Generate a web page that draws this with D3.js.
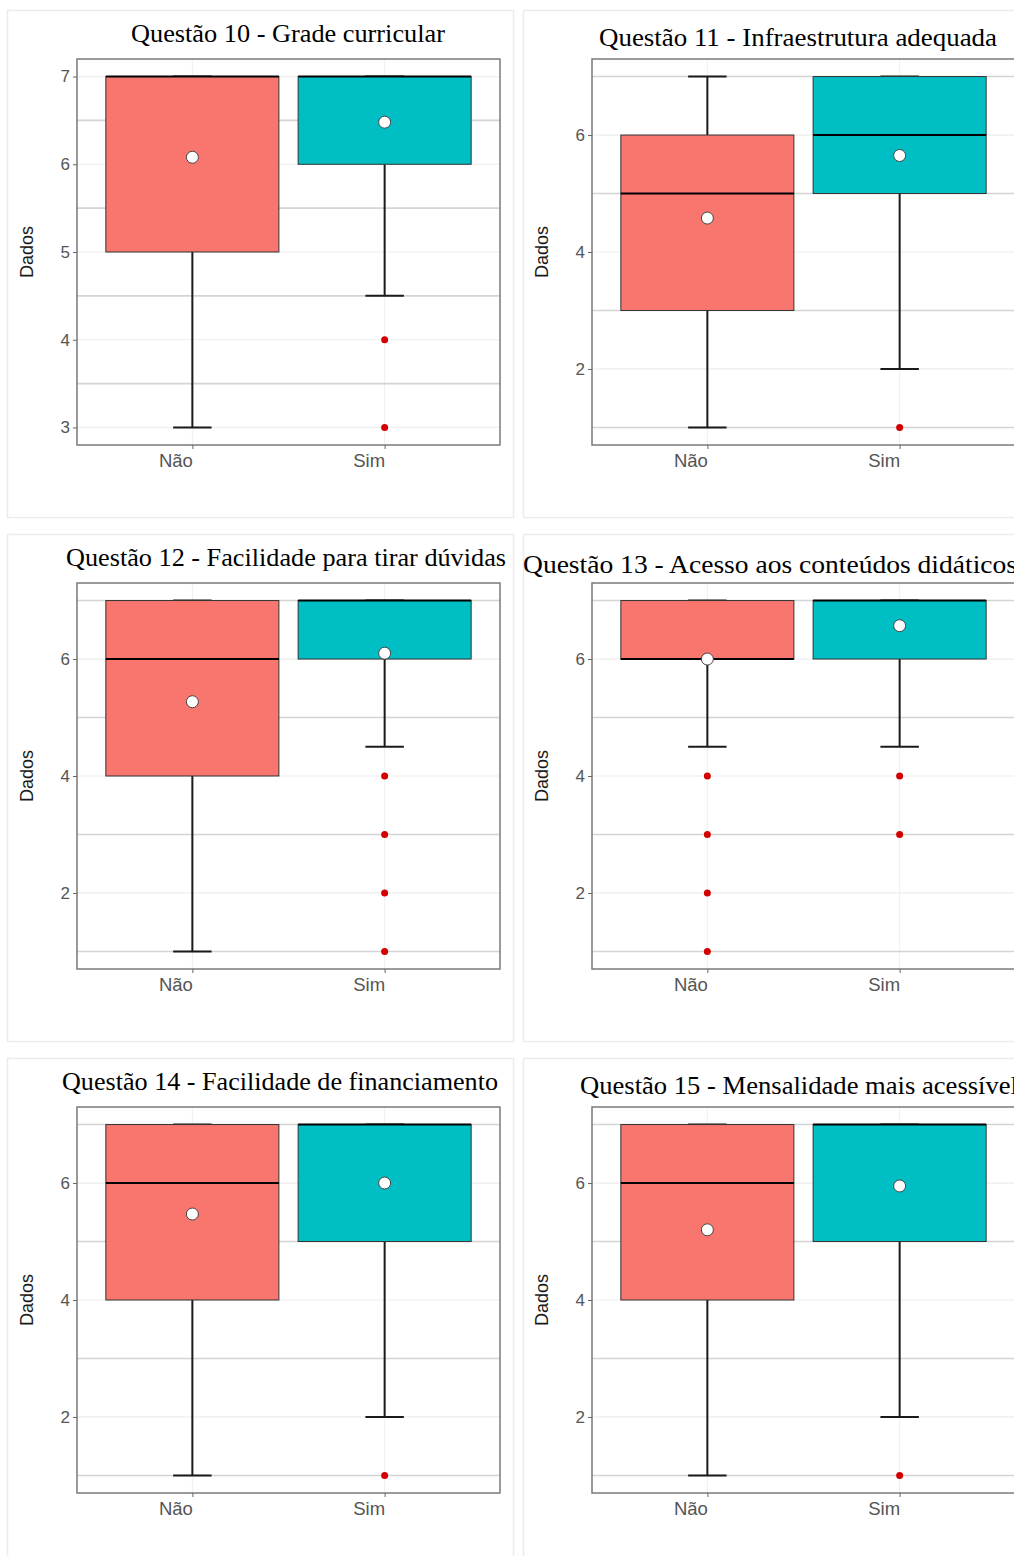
<!DOCTYPE html>
<html><head><meta charset="utf-8">
<script src="https://cdn.jsdelivr.net/npm/d3@7"></script>
<style>body{margin:0;background:#fff}svg{display:block}</style>
</head><body>
<svg id="chart" width="1014" height="1556"></svg>
<script>
// ---- data ----
const titles = [
  "Questão 10 - Grade curricular",
  "Questão 11 - Infraestrutura adequada",
  "Questão 12 - Facilidade para tirar dúvidas",
  "Questão 13 - Acesso aos conteúdos didáticos",
  "Questão 14 - Facilidade de financiamento",
  "Questão 15 - Mensalidade mais acessível"
];
const groups = ["Não", "Sim"];
// per panel: [Não, Sim]
const whiskerLow  = [[3, 4.5], [1, 2], [1, 4.5], [4.5, 4.5], [1, 2], [1, 2]];
const q1          = [[5, 6],   [3, 5], [4, 6],   [6, 6],     [4, 5], [4, 5]];
const median      = [[7, 7],   [5, 6], [6, 7],   [6, 7],     [6, 7], [6, 7]];
const q3          = [[7, 7],   [6, 7], [7, 7],   [7, 7],     [7, 7], [7, 7]];
const whiskerHigh = [[7, 7],   [7, 7], [7, 7],   [7, 7],     [7, 7], [7, 7]];
const means       = [[6.08, 6.48], [4.58, 5.65], [5.27, 6.10], [6.0, 6.57], [5.47, 6.0], [5.2, 5.95]];
const outliers    = [[[], [4, 3]], [[], [1]], [[], [4, 3, 2, 1]], [[4, 3, 2, 1], [4, 3]], [[], [1]], [[], [1]]];
const yDomains    = [[2.8, 7.2], [0.7, 7.3], [0.7, 7.3], [0.7, 7.3], [0.7, 7.3], [0.7, 7.3]];
const yTicks      = [[3, 4, 5, 6, 7], [2, 4, 6], [2, 4, 6], [2, 4, 6], [2, 4, 6], [2, 4, 6]];
const yMinor      = [[3.5, 4.5, 5.5, 6.5], [1, 3, 5, 7], [1, 3, 5, 7], [1, 3, 5, 7], [1, 3, 5, 7], [1, 3, 5, 7]];
const colors = ["#F8766D", "#00BFC4"];

// ---- layout (presentation only) ----
const titleX = [131, 599, 66, 523, 62, 580];
const titleY = [42, 46, 566, 573, 1090, 1094];
const titleLen = [314, 398, 440, 494, 436, 438];

const svg = d3.select("#chart");
const W = 423, H = 386;
const sans = "Liberation Sans, Arial, sans-serif";

titles.forEach((t, i) => {
  const col = i % 2, row = Math.floor(i / 2);
  const left = 77 + col * 515, top = 59 + row * 524;

  // outer frame
  svg.append("rect")
    .attr("x", 7.5 + col * 516).attr("y", 10.5 + row * 524)
    .attr("width", 506).attr("height", 507)
    .attr("fill", "none").attr("stroke", "#ececec").attr("stroke-width", 1.5);

  const g = svg.append("g").attr("transform", `translate(${left},${top})`);
  const y = d3.scaleLinear().domain(yDomains[i]).range([H, 0]);
  const x = d3.scalePoint().domain(groups).range([0, W]).padding(0.6);
  const step = x.step();
  const bw = step * 0.9, cw = step * 0.2;

  // grid
  g.selectAll(".vgrid").data(groups).join("line")
    .attr("x1", d => x(d)).attr("x2", d => x(d)).attr("y1", 0).attr("y2", H)
    .attr("stroke", "#efefef").attr("stroke-width", 1);
  g.selectAll(".mgrid").data(yMinor[i]).join("line")
    .attr("x1", 0).attr("x2", W).attr("y1", d => y(d)).attr("y2", d => y(d))
    .attr("stroke", "#d4d4d4").attr("stroke-width", 1.6);
  g.selectAll(".Mgrid").data(yTicks[i]).join("line")
    .attr("x1", 0).attr("x2", W).attr("y1", d => y(d)).attr("y2", d => y(d))
    .attr("stroke", "#ededed").attr("stroke-width", 1.2);

  groups.forEach((grp, k) => {
    const cx = x(grp);
    // whiskers
    g.append("line").attr("x1", cx).attr("x2", cx)
      .attr("y1", y(whiskerLow[i][k])).attr("y2", y(q1[i][k]))
      .attr("stroke", "#1a1a1a").attr("stroke-width", 2);
    g.append("line").attr("x1", cx).attr("x2", cx)
      .attr("y1", y(whiskerHigh[i][k])).attr("y2", y(q3[i][k]))
      .attr("stroke", "#1a1a1a").attr("stroke-width", 2);
    // caps
    [whiskerLow[i][k], whiskerHigh[i][k]].forEach(v => {
      g.append("line").attr("x1", cx - cw / 2).attr("x2", cx + cw / 2)
        .attr("y1", y(v)).attr("y2", y(v))
        .attr("stroke", "#1a1a1a").attr("stroke-width", 2);
    });
    // box
    g.append("rect")
      .attr("x", cx - bw / 2).attr("width", bw)
      .attr("y", y(q3[i][k])).attr("height", y(q1[i][k]) - y(q3[i][k]))
      .attr("fill", colors[k]).attr("stroke", "#333").attr("stroke-width", 1);
    // median
    g.append("line").attr("x1", cx - bw / 2).attr("x2", cx + bw / 2)
      .attr("y1", y(median[i][k])).attr("y2", y(median[i][k]))
      .attr("stroke", "#000").attr("stroke-width", 2);
    // outliers
    g.selectAll(null).data(outliers[i][k]).join("circle")
      .attr("cx", cx).attr("cy", d => y(d)).attr("r", 3.5)
      .attr("fill", "#d40000");
    // mean
    g.append("circle").attr("cx", cx).attr("cy", y(means[i][k])).attr("r", 6)
      .attr("fill", "#fff").attr("stroke", "#444").attr("stroke-width", 1);
  });

  // panel border
  g.append("rect").attr("x", 0).attr("y", 0).attr("width", W).attr("height", H)
    .attr("fill", "none").attr("stroke", "#7a7a7a").attr("stroke-width", 1.5);

  // axes
  const ya = g.append("g").call(d3.axisLeft(y).tickValues(yTicks[i]).tickSize(4).tickPadding(3).tickFormat(d3.format("d")));
  ya.select(".domain").remove();
  ya.selectAll("line").attr("stroke", "#666");
  ya.selectAll("text").attr("fill", "#555").attr("font-size", 17)
    .attr("font-family", sans);

  const xa = g.append("g").attr("transform", `translate(0,${H})`)
    .call(d3.axisBottom(x).tickSize(4).tickPadding(5));
  xa.select(".domain").remove();
  xa.selectAll("line").attr("stroke", "#666");
  xa.selectAll("text").attr("fill", "#555").attr("font-size", 18.5)
    .attr("text-anchor", "end").attr("x", 0)
    .attr("font-family", sans);

  // y label
  svg.append("text")
    .attr("transform", `translate(${left - 44},${top + H / 2}) rotate(-90)`)
    .attr("text-anchor", "middle").attr("font-size", 18).attr("fill", "#1a1a1a")
    .attr("font-family", sans)
    .text("Dados");

  // title
  svg.append("text")
    .attr("x", titleX[i]).attr("y", titleY[i])
    .attr("font-family", "Liberation Serif, Times New Roman, serif")
    .attr("font-size", 25.5).attr("fill", "#000")
    .attr("textLength", titleLen[i]).attr("lengthAdjust", "spacingAndGlyphs")
    .text(t);
});
</script>
</body></html>
